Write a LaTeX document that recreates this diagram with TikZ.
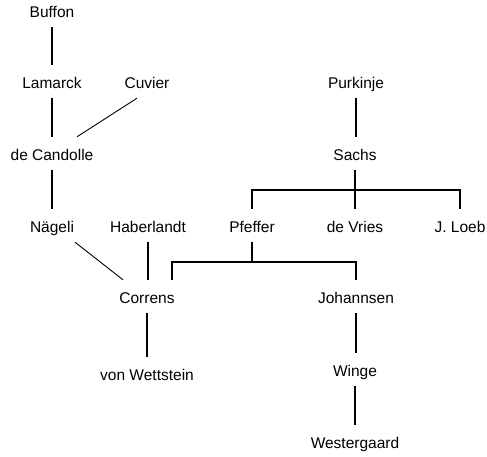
\documentclass[tikz,border=0pt]{standalone}
\usepackage{fontspec}
\setmainfont{Liberation Sans}
\usepackage{tikz}

\begin{document}
\begin{tikzpicture}[x=1pt,y=-1pt,
        every node/.style={font=\fontsize{15.5}{18}\selectfont,text height=15pt,text depth=1pt,inner ysep=8.5pt},
        link/.style={line width=1.2pt}]

        \useasboundingbox (0,0) rectangle (487,457);

        \node at (52,10.5) (buffon) {Buffon};
        \node at (52,81.5) (lamarck) {Lamarck};
        \node at (147,81.5) (cuvier) {Cuvier};
        \node at (52,153.5) (decandolle) {de Candolle};
        \node at (52,225.5) (naegeli) {Nägeli};
        \node at (148,225.5) (haberlandt) {Haberlandt};
        \node at (147,296.5) (correns) {Correns};
        \node at (147,373.5) (wettstein) {von Wettstein};

        \node at (356,81.5) (purkinje) {Purkinje};
        \node at (355,153.5) (sachs) {Sachs};
        \node at (252,225.5) (pfeffer) {Pfeffer};
        \node at (355,225.5) (devries) {de Vries};
        \node at (460,225.5) (loeb) {J. Loeb};
        \node at (356,296.5) (johannsen) {Johannsen};
        \node at (355,369.5) (winge) {Winge};
        \node at (355,441.5) (westergaard) {Westergaard};

        % left tree
        \draw[link] (buffon) -- (lamarck);
        \draw[link] (lamarck) -- (decandolle);
        \draw[link,line width=0.9pt] ([xshift=-10pt]cuvier.south) -- ([xshift=25pt]decandolle.north);
        \draw[link] (decandolle) -- (naegeli);
        \draw[link,line width=0.9pt] ([xshift=23pt]naegeli.south) -- ([xshift=-24pt]correns.north);
        \draw[link] (haberlandt.south) -- (haberlandt.south |- correns.north);
        \draw[link] (correns.south) -- (correns.south |- wettstein.north);

        % right tree
        \coordinate (sachsBar) at (355,190);
        \coordinate (pfefferBar) at (252,262);
        \draw[link] (purkinje.south) -- (purkinje.south |- sachs.north);
        \draw[link] (sachs.south) -- (sachsBar);
        \draw[link] (pfeffer.north) |- (sachsBar) -| (loeb.north);
        \draw[link] (sachsBar) -- (devries.north);
        \draw[link] (pfeffer.south) -- (pfefferBar);
        \draw[link] ([xshift=25pt]correns.north) |- (pfefferBar) -| (johannsen.north);
        \draw[link] (johannsen.south) -- (johannsen.south |- winge.north);
        \draw[link] (winge.south) -- (westergaard.north);

      \end{tikzpicture}
\end{document}
